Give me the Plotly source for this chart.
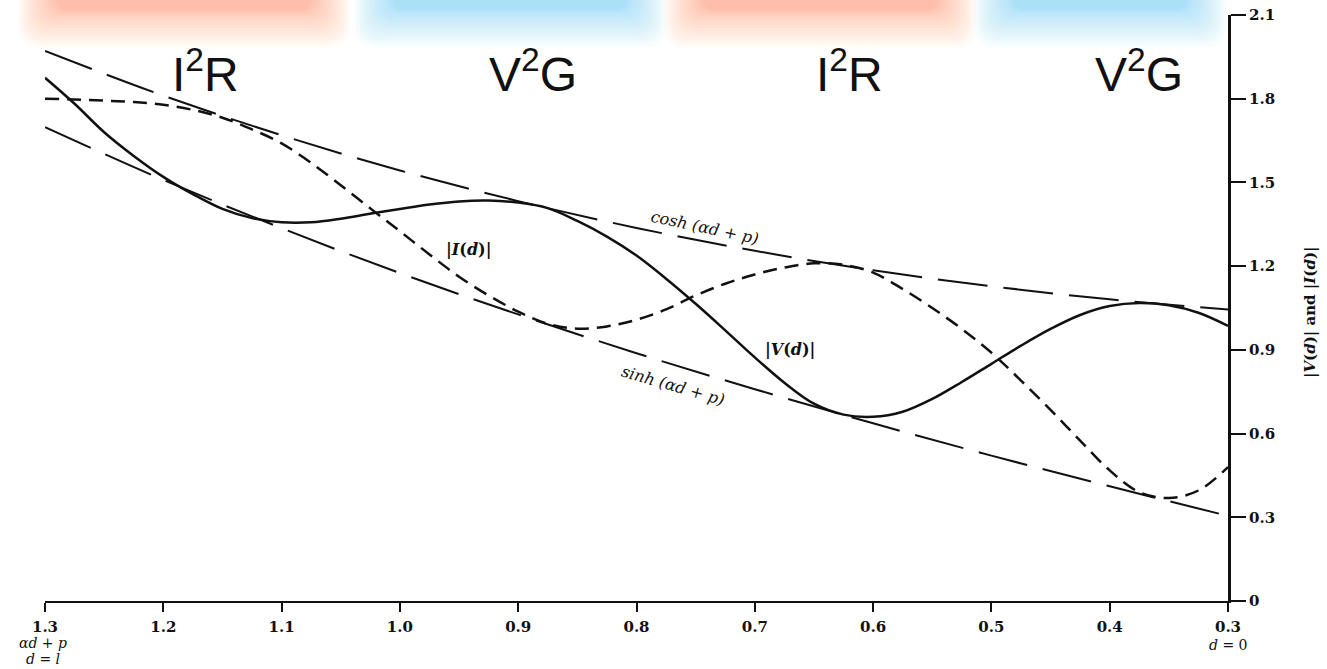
import plotly.graph_objects as go

# ---------------- data ----------------
x_env = [1.3, 1.2, 1.1, 1.0, 0.9, 0.8, 0.7, 0.6, 0.5, 0.4, 0.3]
cosh_env = [1.971, 1.811, 1.669, 1.543, 1.433, 1.337, 1.255, 1.185, 1.128, 1.081, 1.045]
sinh_env = [1.698, 1.509, 1.336, 1.175, 1.027, 0.888, 0.759, 0.637, 0.521, 0.411, 0.305]

x_curve = [1.300, 1.275, 1.250, 1.225, 1.200, 1.175, 1.150, 1.125, 1.100, 1.075, 1.050,
           1.025, 1.000, 0.975, 0.950, 0.925, 0.900, 0.875, 0.850, 0.825, 0.800, 0.775,
           0.750, 0.725, 0.700, 0.675, 0.650, 0.625, 0.600, 0.575, 0.550, 0.525, 0.500,
           0.475, 0.450, 0.425, 0.400, 0.375, 0.350, 0.325, 0.300]
v_mag = [1.875, 1.782, 1.680, 1.595, 1.520, 1.458, 1.405, 1.372, 1.357, 1.357, 1.370,
         1.388, 1.405, 1.421, 1.432, 1.435, 1.428, 1.408, 1.362, 1.306, 1.238, 1.155,
         1.065, 0.970, 0.873, 0.782, 0.707, 0.668, 0.660, 0.678, 0.724, 0.785, 0.850,
         0.915, 0.975, 1.025, 1.057, 1.068, 1.060, 1.033, 0.986]
i_mag = [1.800, 1.797, 1.793, 1.788, 1.778, 1.760, 1.732, 1.690, 1.640, 1.570, 1.490,
         1.407, 1.325, 1.242, 1.162, 1.095, 1.037, 0.993, 0.976, 0.984, 1.008, 1.045,
         1.095, 1.137, 1.170, 1.195, 1.210, 1.205, 1.177, 1.118, 1.050, 0.975, 0.890,
         0.790, 0.685, 0.575, 0.468, 0.390, 0.369, 0.396, 0.480]

x_ticks = [1.3, 1.2, 1.1, 1.0, 0.9, 0.8, 0.7, 0.6, 0.5, 0.4, 0.3]
x_ticktext = ["1.3", "1.2", "1.1", "1.0", "0.9", "0.8", "0.7", "0.6", "0.5", "0.4", "0.3"]
y_ticks = [0, 0.3, 0.6, 0.9, 1.2, 1.5, 1.8, 2.1]
y_ticktext = ["0", "0.3", "0.6", "0.9", "1.2", "1.5", "1.8", "2.1"]

band_labels = ["I<sup>2</sup>R", "V<sup>2</sup>G", "I<sup>2</sup>R", "V<sup>2</sup>G"]

# ---------------- layout geometry (page pixels) ----------------
FW, FH = 1327, 669
L, R, T, B = 45, 1228, 15, 601   # plot area in page pixels
PW, PH = R - L, B - T


def px(x):
    return (x - L) / PW


def py(y):
    return (B - y) / PH


SERIF = "DejaVu Serif"
INK = "#111"

fig = go.Figure()

fig.add_trace(go.Scatter(x=x_env, y=cosh_env, mode="lines", line_shape="spline",
                         line=dict(color=INK, width=2, dash="50px,16px"),
                         hoverinfo="skip", showlegend=False))
fig.add_trace(go.Scatter(x=x_env, y=sinh_env, mode="lines", line_shape="spline",
                         line=dict(color=INK, width=2, dash="50px,16px"),
                         hoverinfo="skip", showlegend=False))
fig.add_trace(go.Scatter(x=x_curve, y=i_mag, mode="lines", line_shape="spline",
                         line=dict(color=INK, width=2.5, dash="14px,8px"),
                         hoverinfo="skip", showlegend=False))
fig.add_trace(go.Scatter(x=x_curve, y=v_mag, mode="lines", line_shape="spline",
                         line=dict(color=INK, width=2.5),
                         hoverinfo="skip", showlegend=False))

# ---------------- top glowing bands ----------------
def band_path(x0, x1, y0, y1, r):
    X0, X1 = px(x0), px(x1)
    Y0, Y1 = py(y0), py(y1)
    rx, ry = r / PW, r / PH
    return (f"M{X0},{Y1} L{X0},{Y0 + ry} Q{X0},{Y0} {X0 + rx},{Y0} "
            f"L{X1 - rx},{Y0} Q{X1},{Y0} {X1},{Y0 + ry} L{X1},{Y1} Z")


bands = [(18, 350, "o"), (354, 666, "b"), (664, 976, "o"), (974, 1226, "b")]
cols = {"o": ((255, 234, 216), (255, 176, 158)),
        "b": ((220, 243, 252), (158, 221, 247))}
shapes = []
N = 16
for x0, x1, k in bands:
    c_out, c_in = cols[k]
    for i in range(N):
        t = i / (N - 1)
        inset = t * 40
        bottom = 10 + 38 * (1 - t) ** 1.5
        c = tuple(int(c_out[j] + (c_in[j] - c_out[j]) * t) for j in range(3))
        shapes.append(dict(type="path", xref="paper", yref="paper",
                           path=band_path(x0 + inset, x1 - inset, bottom, -12, 24 - 12 * t),
                           fillcolor=f"rgb{c}", opacity=0.2, line=dict(width=0),
                           layer="below"))

annotations = []
for lab, cx in zip(band_labels, [205, 533, 849, 1139]):
    annotations.append(dict(xref="paper", yref="paper", x=px(cx), y=py(71),
                            text=lab, showarrow=False,
                            font=dict(family="Liberation Sans, Arial", size=48, color=INK),
                            xanchor="center", yanchor="middle"))

lab_font = dict(family=SERIF, size=16, color=INK)
annotations += [
    dict(x=0.742, y=1.338, xref="x", yref="y", showarrow=False, textangle=12,
         xanchor="center", yanchor="middle",
         text="<i>cosh (αd + p)</i>", font=lab_font),
    dict(x=0.769, y=0.774, xref="x", yref="y", showarrow=False, textangle=16,
         xanchor="center", yanchor="middle",
         text="<i>sinh (αd + p)</i>", font=lab_font),
    dict(x=0.942, y=1.258, xref="x", yref="y", showarrow=False,
         xanchor="center", yanchor="middle",
         text="<b>|<i>I</i>(<i>d</i>)|</b>", font=lab_font),
    dict(x=0.670, y=0.903, xref="x", yref="y", showarrow=False,
         xanchor="center", yanchor="middle",
         text="<b>|<i>V</i>(<i>d</i>)|</b>", font=lab_font),
    dict(xref="paper", yref="paper", x=px(43), y=py(643), showarrow=False,
         xanchor="center", yanchor="middle",
         text="<i>αd + p</i>", font=dict(family=SERIF, size=14, color=INK)),
    dict(xref="paper", yref="paper", x=px(43), y=py(659), showarrow=False,
         xanchor="center", yanchor="middle",
         text="<i>d = l</i>", font=dict(family=SERIF, size=14, color=INK)),
    dict(xref="paper", yref="paper", x=px(1228), y=py(645), showarrow=False,
         xanchor="center", yanchor="middle",
         text="<i>d</i> = 0", font=dict(family=SERIF, size=14, color=INK)),
    dict(xref="paper", yref="paper", x=px(1310), y=py(312), showarrow=False,
         xanchor="center", yanchor="middle", textangle=-90,
         text="<b>|<i>V</i>(<i>d</i>)| and |<i>I</i>(<i>d</i>)|</b>",
         font=dict(family=SERIF, size=15, color=INK)),
]

fig.update_layout(
    width=FW, height=FH,
    margin=dict(l=L, r=FW - R, t=T, b=FH - B, autoexpand=False),
    paper_bgcolor="white", plot_bgcolor="white",
    shapes=shapes, annotations=annotations,
    xaxis=dict(range=[1.3, 0.3], tickvals=x_ticks, ticktext=x_ticktext,
               showgrid=False, zeroline=False, showline=True, linecolor=INK,
               linewidth=2, ticks="outside", ticklen=9, tickwidth=1.5, tickcolor=INK,
               ticklabelstandoff=2, ticklabeloverflow="allow",
               tickfont=dict(family=SERIF, size=15, color=INK, weight="bold")),
    yaxis=dict(range=[0, 2.1], tickvals=y_ticks, ticktext=y_ticktext, side="right",
               showgrid=False, zeroline=False, showline=True, linecolor=INK,
               linewidth=3, ticks="outside", ticklen=15, tickwidth=2, tickcolor=INK,
               ticklabeloverflow="allow",
               tickfont=dict(family=SERIF, size=15, color=INK, weight="bold")),
)

fig.write_html("out.html", config={"displayModeBar": False},
               post_script="document.body.style.margin='0px';"
                           "document.body.style.overflow='hidden';")
